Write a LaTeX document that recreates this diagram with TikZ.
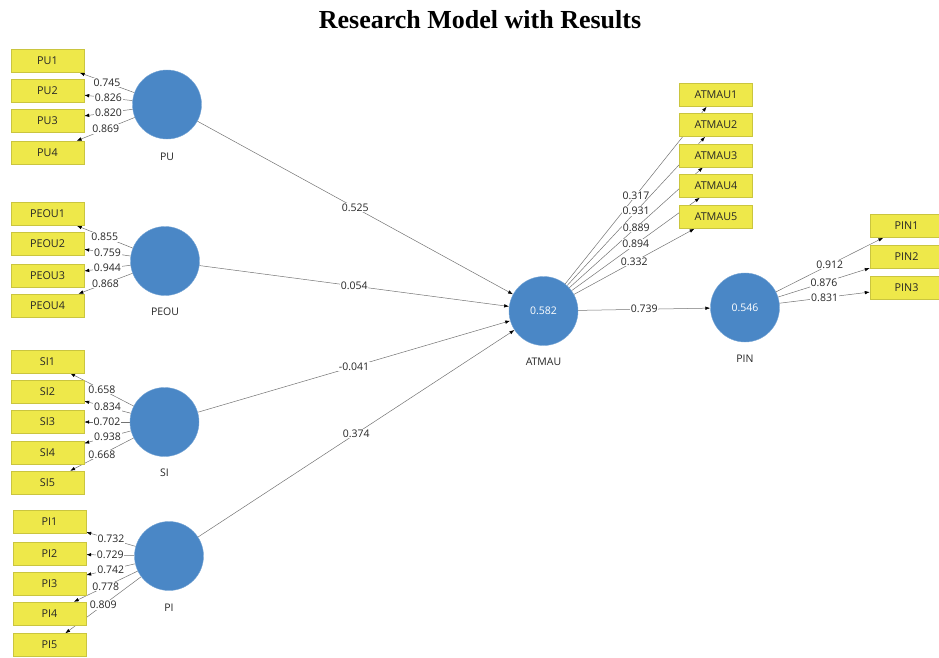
\documentclass[tikz,border=0pt]{standalone}
\usepackage{fontspec}
\setmainfont{Liberation Serif}
\newfontfamily\plsfont{Open Sans}
\usetikzlibrary{arrows.meta}
\usepackage{xcolor}
\definecolor{lvblue}{HTML}{4A87C6}
\definecolor{mvyellow}{HTML}{EEE84A}
\pgfdeclarelayer{background}
\pgfsetlayers{background,main}

\begin{document}
\begin{tikzpicture}[x=1pt, y=-1pt,
    construct/.style={circle, fill=lvblue, draw=lvblue!75!white, minimum size=69pt, inner sep=0pt,
        text=white, font=\plsfont\fontsize{10.5}{12}\selectfont},
    cname/.style={font=\plsfont\fontsize{10.5}{12}\selectfont, text=black!85},
    indicator/.style={rectangle, fill=mvyellow, draw=mvyellow!85!black, line width=0.4pt,
        minimum width=73pt, minimum height=23pt, inner sep=0pt,
        font=\plsfont\fontsize{10.8}{12}\selectfont, text=black!85},
    coef/.style={fill=white, inner sep=0.8pt, font=\plsfont\fontsize{10.5}{12}\selectfont, text=black!85},
    loading/.style={draw=gray!90!black, line width=0.5pt, -{Latex[length=5pt, width=3.5pt, color=black]}}]
    \useasboundingbox (0,0) rectangle (939,657);

    \node[font=\bfseries\fontsize{26}{30}\selectfont] (title) at (480,20) {Research Model with Results};

    % latent variables
    \node[construct] (PU)    at (167,104.5) {};
    \node[construct] (PEOU)  at (165,261)   {};
    \node[construct] (SI)    at (164.5,422) {};
    \node[construct] (PI)    at (169,556)   {};
    \node[construct] (ATMAU) at (543.5,311) {0.582};
    \node[construct] (PIN)   at (745,307.5) {0.546};

    \node[cname] (PUname)    at (167,157)   {PU};
    \node[cname] (PEOUname)  at (165,312)   {PEOU};
    \node[cname] (SIname)    at (164.5,473) {SI};
    \node[cname] (PIname)    at (169,608)   {PI};
    \node[cname] (ATMAUname) at (543.5,362) {ATMAU};
    \node[cname] (PINname)   at (745,359)   {PIN};

    % indicators
    \foreach \i/\y in {1/61, 2/91, 3/121, 4/152.5}
        \node[indicator] (PU\i) at (47.5,\y) {PU\i};
    \foreach \i/\y in {1/214, 2/244, 3/275.5, 4/305.5}
        \node[indicator] (PEOU\i) at (47.5,\y) {PEOU\i};
    \foreach \i/\y in {1/361.5, 2/391.5, 3/422, 4/453, 5/482.5}
        \node[indicator] (SI\i) at (47.5,\y) {SI\i};
    \foreach \i/\y in {1/521.5, 2/554, 3/583.5, 4/613.5, 5/645}
        \node[indicator] (PI\i) at (49.5,\y) {PI\i};
    \foreach \i/\y in {1/95, 2/125, 3/155.5, 4/186, 5/217}
        \node[indicator] (ATMAU\i) at (716,\y) {ATMAU\i};
    \foreach \i/\y in {1/226, 2/256.5, 3/287.5}
        \node[indicator] (PIN\i) at (906.5,\y) {PIN\i};

    \begin{pgfonlayer}{background}
        % outer loadings
        \foreach \i/\v in {1/0.745, 2/0.826, 3/0.820, 4/0.869}
            \draw[loading] (PU) -- node[coef] {\v} (PU\i);
        \foreach \i/\v in {1/0.855, 2/0.759, 3/0.944, 4/0.868}
            \draw[loading] (PEOU) -- node[coef] {\v} (PEOU\i);
        \foreach \i/\v in {1/0.658, 2/0.834, 3/0.702, 4/0.938, 5/0.668}
            \draw[loading] (SI) -- node[coef] {\v} (SI\i);
        \foreach \i/\v in {1/0.732, 2/0.729, 3/0.742, 4/0.778, 5/0.809}
            \draw[loading] (PI) -- node[coef] {\v} (PI\i);
        \foreach \i/\v in {1/0.317, 2/0.931, 3/0.889, 4/0.894, 5/0.332}
            \draw[loading] (ATMAU) -- node[coef] {\v} (ATMAU\i);
        \foreach \i/\v in {1/0.912, 2/0.876, 3/0.831}
            \draw[loading] (PIN) -- node[coef] {\v} (PIN\i);

        % path coefficients
        \draw[loading] (PU)    -- node[coef] {0.525}  (ATMAU);
        \draw[loading] (PEOU)  -- node[coef] {0.054}  (ATMAU);
        \draw[loading] (SI)    -- node[coef] {-0.041} (ATMAU);
        \draw[loading] (PI)    -- node[coef] {0.374}  (ATMAU);
        \draw[loading] (ATMAU) -- node[coef] {0.739}  (PIN);
    \end{pgfonlayer}
\end{tikzpicture}
\end{document}
